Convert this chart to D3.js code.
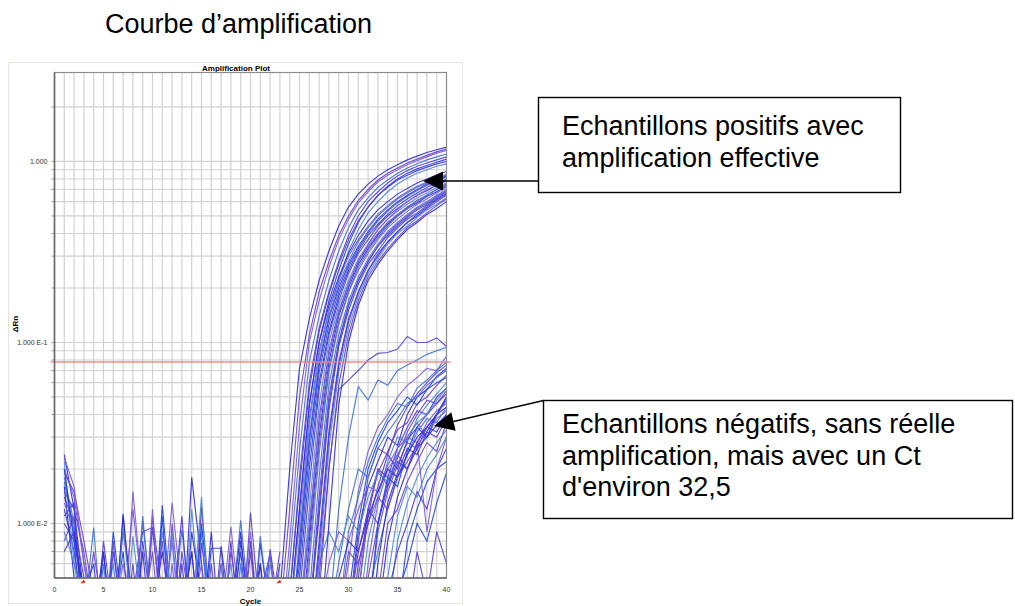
<!DOCTYPE html>
<html>
<head>
<meta charset="utf-8">
<title>Courbe d'amplification</title>
<script src="https://d3js.org/d3.v7.min.js"></script>
<style>
    body {
        margin: 0;
        background: #fff;
        font-family: "Liberation Sans", Arial, sans-serif;
    }
    svg { display: block; }
    .grid line { stroke: #d2d2d2; stroke-width: 1.2; }
    .tick-label { font-size: 7px; fill: #333; }
    .note { font-size: 27px; fill: #000; }
    .curve { fill: none; stroke-width: 1.15; stroke-opacity: 0.9; }
</style>
</head>
<body>
<svg id="chart" width="1015" height="606"></svg>
<script>
    // ---- data ----
    const xTicks = [0, 5, 10, 15, 20, 25, 30, 35, 40];
    const yTickValues = [1, 0.1, 0.01];
    const yTickLabels = ["1.000", "1.000 E-1", "1.000 E-2"];
    const threshold = 0.078;
    const baselineMarks = [3, 23];

    // baseline noise, cycles 1..23
    const noiseStart = 1;
    const noiseCurves = [
        [0.024,0.012,0.004,0.002,0.003,0.002,0.011,0.003,0.002,0.004,0.002,0.003,0.002,0.018,0.006,0.002,0.003,0.002,0.004,0.002,0.003,0.002,0.003],
        [0.02,0.014,0.006,0.003,0.002,0.004,0.002,0.015,0.004,0.002,0.003,0.013,0.004,0.002,0.003,0.002,0.003,0.0096,0.003,0.002,0.004,0.002,0.003],
        [0.017,0.009,0.003,0.0095,0.002,0.003,0.002,0.003,0.0102,0.003,0.002,0.003,0.0092,0.003,0.002,0.003,0.002,0.003,0.0104,0.003,0.002,0.003,0.002],
        [0.014,0.01,0.005,0.002,0.008,0.003,0.002,0.003,0.002,0.0108,0.004,0.002,0.003,0.002,0.0123,0.003,0.002,0.004,0.002,0.0115,0.003,0.002,0.004],
        [0.012,0.007,0.003,0.004,0.002,0.009,0.003,0.002,0.004,0.002,0.0126,0.003,0.002,0.004,0.002,0.0073,0.0073,0.002,0.003,0.002,0.0078,0.003,0.002],
        [0.01,0.008,0.002,0.003,0.002,0.003,0.009,0.004,0.009,0.0095,0.003,0.002,0.006,0.002,0.0078,0.003,0.002,0.003,0.002,0.003,0.002,0.0072,0.003],
        [0.022,0.006,0.004,0.002,0.003,0.006,0.002,0.0085,0.003,0.002,0.009,0.004,0.002,0.012,0.003,0.002,0.006,0.002,0.004,0.002,0.003,0.002,0.006],
        [0.008,0.011,0.003,0.007,0.003,0.002,0.004,0.002,0.003,0.007,0.002,0.01,0.003,0.004,0.002,0.003,0.002,0.007,0.003,0.002,0.003,0.004,0.002],
        [0.016,0.005,0.002,0.003,0.007,0.002,0.0113,0.003,0.002,0.003,0.007,0.003,0.002,0.009,0.004,0.002,0.003,0.002,0.008,0.003,0.006,0.002,0.003],
        [0.013,0.009,0.004,0.002,0.003,0.002,0.003,0.012,0.004,0.002,0.003,0.008,0.002,0.003,0.006,0.002,0.003,0.002,0.003,0.009,0.002,0.003,0.002],
        [0.018,0.01,0.003,0.002,0.006,0.002,0.003,0.002,0.011,0.003,0.002,0.004,0.002,0.003,0.009,0.002,0.003,0.002,0.006,0.002,0.0085,0.003,0.002],
        [0.015,0.012,0.007,0.003,0.002,0.008,0.002,0.003,0.002,0.0095,0.003,0.002,0.007,0.003,0.002,0.006,0.002,0.008,0.002,0.003,0.002,0.003,0.006],
        [0.02,0.008,0.004,0.006,0.002,0.003,0.007,0.002,0.003,0.002,0.011,0.002,0.003,0.002,0.01,0.003,0.002,0.003,0.007,0.002,0.004,0.0068,0.002],
        [0.011,0.013,0.002,0.003,0.002,0.007,0.003,0.002,0.008,0.003,0.002,0.003,0.011,0.002,0.003,0.002,0.0075,0.003,0.002,0.008,0.002,0.003,0.002],
        [0.009,0.006,0.003,0.002,0.004,0.002,0.0095,0.003,0.002,0.003,0.002,0.009,0.002,0.003,0.014,0.002,0.003,0.006,0.002,0.003,0.002,0.006,0.003],
        [0.019,0.015,0.008,0.004,0.002,0.003,0.002,0.006,0.002,0.003,0.008,0.002,0.003,0.007,0.002,0.003,0.002,0.003,0.002,0.007,0.002,0.003,0.007],
        [0.007,0.009,0.004,0.002,0.007,0.002,0.003,0.002,0.007,0.002,0.003,0.002,0.003,0.007,0.002,0.009,0.002,0.003,0.009,0.002,0.006,0.002,0.003],
        [0.023,0.016,0.006,0.003,0.002,0.003,0.006,0.003,0.002,0.012,0.002,0.006,0.002,0.003,0.002,0.003,0.006,0.002,0.003,0.002,0.003,0.007,0.002]
    ];

    // positive samples (first cycle of each series, then values)
    const positiveStart = [23, 23, 23, 24, 24, 24, 24, 23,
                           24, 24, 24, 24, 24, 25, 25, 25, 25, 25, 26, 26, 26, 26, 26, 26, 27,
                           25, 25, 26, 24, 26];
    const positiveCurves = [
        [0.004,0.02,0.072,0.135,0.22,0.32,0.44,0.56,0.66,0.75,0.83,0.9,0.96,1.02,1.07,1.12,1.16,1.2],
        [0.002,0.008,0.035,0.1,0.17,0.26,0.37,0.48,0.59,0.68,0.77,0.84,0.9,0.96,1.01,1.06,1.11,1.15],
        [0.002,0.006,0.025,0.078,0.14,0.22,0.32,0.43,0.54,0.63,0.72,0.79,0.86,0.92,0.97,1.02,1.06,1.1],
        [0.004,0.018,0.06,0.12,0.19,0.28,0.39,0.5,0.6,0.68,0.76,0.83,0.89,0.94,0.98,1.02,1.06],
        [0.003,0.012,0.045,0.1,0.17,0.25,0.35,0.46,0.56,0.65,0.73,0.8,0.86,0.91,0.95,0.99,1.03],
        [0.004,0.016,0.055,0.115,0.185,0.27,0.37,0.47,0.56,0.65,0.72,0.79,0.84,0.89,0.93,0.97,1.0],
        [0.002,0.008,0.035,0.085,0.15,0.22,0.32,0.42,0.52,0.6,0.68,0.75,0.81,0.86,0.9,0.94,0.97],
        [0.003,0.012,0.05,0.11,0.19,0.28,0.39,0.5,0.61,0.7,0.79,0.86,0.92,0.98,1.03,1.08,1.13,1.17],
        [0.003,0.012,0.045,0.1,0.16,0.23,0.31,0.39,0.47,0.54,0.6,0.66,0.71,0.76,0.8,0.84,0.88],
        [0.003,0.01,0.038,0.09,0.15,0.22,0.3,0.37,0.44,0.51,0.57,0.63,0.68,0.73,0.77,0.81,0.85],
        [0.002,0.008,0.03,0.078,0.14,0.21,0.28,0.36,0.43,0.5,0.56,0.62,0.67,0.72,0.76,0.8,0.84],
        [0.002,0.006,0.024,0.068,0.125,0.19,0.26,0.33,0.4,0.47,0.53,0.59,0.64,0.69,0.74,0.78,0.82],
        [0.002,0.005,0.02,0.06,0.115,0.18,0.25,0.32,0.39,0.45,0.51,0.57,0.62,0.67,0.72,0.76,0.8],
        [0.004,0.016,0.055,0.11,0.17,0.24,0.31,0.37,0.44,0.5,0.55,0.6,0.65,0.69,0.74,0.78],
        [0.003,0.012,0.045,0.1,0.16,0.22,0.29,0.35,0.42,0.48,0.53,0.58,0.63,0.67,0.72,0.76],
        [0.003,0.009,0.038,0.09,0.15,0.21,0.28,0.34,0.4,0.46,0.51,0.56,0.61,0.65,0.7,0.75],
        [0.002,0.008,0.03,0.078,0.14,0.2,0.27,0.33,0.39,0.45,0.5,0.55,0.59,0.64,0.68,0.73],
        [0.002,0.006,0.024,0.068,0.125,0.19,0.25,0.31,0.37,0.43,0.48,0.53,0.58,0.62,0.67,0.72],
        [0.004,0.018,0.058,0.11,0.17,0.23,0.29,0.35,0.41,0.46,0.51,0.56,0.6,0.65,0.7],
        [0.003,0.014,0.05,0.1,0.16,0.22,0.28,0.34,0.39,0.44,0.49,0.54,0.58,0.63,0.68],
        [0.003,0.011,0.042,0.095,0.15,0.21,0.27,0.32,0.38,0.43,0.48,0.52,0.57,0.62,0.67],
        [0.002,0.008,0.032,0.078,0.135,0.19,0.25,0.31,0.36,0.41,0.46,0.5,0.55,0.6,0.65],
        [0.002,0.006,0.026,0.068,0.12,0.18,0.24,0.29,0.35,0.4,0.44,0.49,0.54,0.58,0.63],
        [0.002,0.005,0.02,0.058,0.11,0.17,0.23,0.28,0.33,0.38,0.43,0.47,0.52,0.57,0.62],
        [0.002,0.01,0.045,0.1,0.16,0.22,0.27,0.32,0.37,0.42,0.46,0.51,0.55,0.6],
        [0.003,0.01,0.034,0.085,0.145,0.21,0.28,0.35,0.42,0.48,0.54,0.6,0.65,0.7,0.74,0.79],
        [0.002,0.007,0.027,0.072,0.13,0.19,0.26,0.32,0.38,0.44,0.5,0.55,0.6,0.65,0.7,0.74],
        [0.003,0.012,0.046,0.1,0.16,0.22,0.28,0.34,0.4,0.45,0.5,0.55,0.59,0.64,0.69],
        [0.002,0.007,0.028,0.074,0.135,0.2,0.27,0.34,0.41,0.48,0.54,0.6,0.65,0.7,0.75,0.79,0.83],
        [0.002,0.007,0.03,0.074,0.13,0.19,0.25,0.3,0.36,0.41,0.46,0.51,0.56,0.61,0.66]
    ];

    // negative samples
    const negativeStart = [27, 27, 29, 30, 30, 31, 31, 30, 32, 32, 31, 33, 33,
                           34, 34, 35, 30, 29, 31, 32, 31, 33, 30, 35, 36, 28,
                           27, 28, 29, 26, 30, 32];
    const negativeCurves = [
        [0.004,0.02,0.055,0.062,0.07,0.08,0.087,0.088,0.092,0.108,0.1,0.1,0.106,0.095],
        [0.002,0.003,0.012,0.03,0.057,0.048,0.062,0.058,0.07,0.075,0.08,0.086,0.09,0.094],
        [0.003,0.006,0.015,0.025,0.034,0.04,0.05,0.058,0.064,0.072,0.07,0.084],
        [0.003,0.009,0.016,0.022,0.03,0.027,0.04,0.05,0.055,0.065,0.072],
        [0.002,0.005,0.012,0.019,0.025,0.033,0.036,0.046,0.05,0.058,0.066],
        [0.003,0.008,0.014,0.022,0.03,0.028,0.038,0.045,0.052,0.06],
        [0.004,0.011,0.02,0.018,0.026,0.034,0.042,0.04,0.05,0.056],
        [0.004,0.01,0.02,0.028,0.036,0.042,0.05,0.045,0.055,0.06,0.064],
        [0.003,0.009,0.015,0.021,0.028,0.026,0.034,0.04,0.048],
        [0.004,0.007,0.012,0.018,0.024,0.032,0.038,0.036,0.044],
        [0.002,0.006,0.013,0.02,0.024,0.03,0.036,0.03,0.038,0.042],
        [0.003,0.008,0.014,0.02,0.026,0.03,0.035,0.04],
        [0.004,0.01,0.012,0.017,0.022,0.028,0.025,0.036],
        [0.003,0.008,0.013,0.018,0.023,0.028,0.033],
        [0.004,0.007,0.01,0.015,0.012,0.02,0.026],
        [0.003,0.008,0.012,0.017,0.02,0.022],
        [0.003,0.008,0.018,0.026,0.024,0.035,0.044,0.052,0.06,0.068,0.075],
        [0.003,0.009,0.014,0.022,0.03,0.038,0.046,0.044,0.056,0.062,0.07,0.078],
        [0.004,0.012,0.02,0.016,0.024,0.02,0.028,0.009,0.02,0.03],
        [0.002,0.006,0.013,0.019,0.026,0.024,0.032,0.04,0.05],
        [0.002,0.005,0.01,0.017,0.023,0.032,0.04,0.048,0.046,0.054],
        [0.002,0.005,0.011,0.016,0.014,0.02,0.024,0.03],
        [0.002,0.006,0.01,0.016,0.024,0.02,0.029,0.034,0.04,0.046,0.052],
        [0.004,0.006,0.01,0.008,0.013,0.019],
        [0.003,0.007,0.004,0.009,0.006],
        [0.003,0.006,0.012,0.02,0.018,0.026,0.032,0.038,0.046,0.05,0.058,0.064,0.07],
        [0.003,0.006,0.009,0.008,0.012,0.016,0.015,0.021,0.026,0.03,0.028,0.036,0.042,0.046],
        [0.002,0.005,0.008,0.007,0.011,0.015,0.02,0.018,0.024,0.03,0.034,0.04,0.044],
        [0.003,0.007,0.006,0.01,0.014,0.012,0.018,0.022,0.027,0.032,0.03,0.038],
        [0.002,0.006,0.009,0.007,0.011,0.009,0.014,0.019,0.017,0.024,0.03,0.036,0.04,0.048,0.056],
        [0.003,0.007,0.012,0.01,0.016,0.022,0.02,0.028,0.034,0.032,0.04],
        [0.003,0.01,0.018,0.016,0.025,0.034,0.03,0.04,0.05]
    ];

    const palette = ["#2a2ad8", "#5b3fcf", "#4a84d4", "#7b58d8", "#1f40e0", "#6a3fc8", "#3f6fd0", "#4a36d8"];

    // ---- layout ----
    const svg = d3.select("#chart");
    const plot = { left: 54.5, right: 446.5, top: 72.5, bottom: 578 };

    const x = d3.scaleLinear().domain([0, 40]).range([plot.left, plot.right]);
    const y = d3.scaleLog().domain([0.005, 3.1]).range([plot.bottom, plot.top]);

    // page title
    svg.append("text").attr("x", 105).attr("y", 33)
        .attr("font-size", 27).text("Courbe d\u2019amplification");

    // screenshot frame
    svg.append("rect").attr("x", 8.5).attr("y", 62.5).attr("width", 454).attr("height", 541)
        .attr("fill", "#fff").attr("stroke", "#e4e4dc");

    svg.append("text").attr("x", 236).attr("y", 70.5).attr("text-anchor", "middle")
        .attr("font-size", 8).attr("font-weight", "bold").text("Amplification Plot");

    // grid
    const grid = svg.append("g").attr("class", "grid");
    grid.selectAll(".v").data(d3.range(1, 40)).enter().append("line")
        .attr("x1", d => x(d)).attr("x2", d => x(d))
        .attr("y1", plot.top).attr("y2", plot.bottom);
    const hTicks = y.ticks().filter(v => v > 0.005 && v < 2.5);
    grid.selectAll(".h").data(hTicks).enter().append("line")
        .attr("x1", plot.left).attr("x2", plot.right)
        .attr("y1", d => y(d)).attr("y2", d => y(d));

    // small ticks on left
    svg.append("g").selectAll("line").data(hTicks).enter().append("line")
        .attr("x1", plot.left - 3).attr("x2", plot.left)
        .attr("y1", d => y(d)).attr("y2", d => y(d))
        .attr("stroke", "#999").attr("stroke-width", 1);

    // curves
    svg.append("clipPath").attr("id", "clip").append("rect")
        .attr("x", plot.left).attr("y", plot.top)
        .attr("width", plot.right - plot.left).attr("height", plot.bottom - plot.top);

    const line = d3.line().x(d => x(d[0])).y(d => y(d[1]));
    const toPoints = (start, values) => values.map((v, i) => [start + i, v]);

    const curves = svg.append("g").attr("clip-path", "url(#clip)");
    noiseCurves.forEach((vals, i) => {
        curves.append("path").attr("class", "curve")
            .attr("d", line(toPoints(noiseStart, vals)))
            .attr("stroke", palette[(i * 3) % palette.length]);
    });
    negativeCurves.forEach((vals, i) => {
        curves.append("path").attr("class", "curve")
            .attr("d", line(toPoints(negativeStart[i], vals)))
            .attr("stroke", palette[(i * 5 + 1) % palette.length]);
    });
    positiveCurves.forEach((vals, i) => {
        curves.append("path").attr("class", "curve")
            .attr("d", line(toPoints(positiveStart[i], vals)))
            .attr("stroke", palette[(i * 3) % palette.length]);
    });

    // threshold
    svg.append("line")
        .attr("x1", plot.left - 4).attr("x2", plot.right + 4)
        .attr("y1", y(threshold)).attr("y2", y(threshold))
        .attr("stroke", "#f07a7a").attr("stroke-width", 1.3).attr("stroke-opacity", 0.85);

    // borders
    svg.append("rect").attr("x", plot.left).attr("y", plot.top)
        .attr("width", plot.right - plot.left).attr("height", plot.bottom - plot.top)
        .attr("fill", "none").attr("stroke", "#8c8c8c").attr("stroke-width", 1.2);
    svg.append("line").attr("x1", plot.left).attr("x2", plot.left)
        .attr("y1", plot.top).attr("y2", plot.bottom)
        .attr("stroke", "#6a6a6a").attr("stroke-width", 1.6);
    svg.append("line").attr("x1", plot.left).attr("x2", plot.right)
        .attr("y1", plot.bottom).attr("y2", plot.bottom)
        .attr("stroke", "#6a6a6a").attr("stroke-width", 1.6);

    // axis labels
    svg.append("g").selectAll("text").data(yTickValues).enter().append("text")
        .attr("class", "tick-label").attr("text-anchor", "end")
        .attr("x", plot.left - 7).attr("y", d => y(d) + 2.5)
        .text((d, i) => yTickLabels[i]);
    svg.append("g").selectAll("text").data(xTicks).enter().append("text")
        .attr("class", "tick-label").attr("text-anchor", "middle")
        .attr("x", d => x(d)).attr("y", plot.bottom + 14)
        .text(d => d);
    svg.append("text").attr("x", x(20)).attr("y", 604).attr("text-anchor", "middle")
        .attr("font-size", 8).attr("font-weight", "bold").text("Cycle");
    svg.append("text").attr("transform", "translate(18,324) rotate(-90)")
        .attr("text-anchor", "middle").attr("font-size", 8).attr("font-weight", "bold")
        .text("\u0394Rn");

    // baseline start / end markers
    svg.append("g").selectAll("path").data(baselineMarks).enter().append("path")
        .attr("d", d => `M${x(d) - 3},${plot.bottom + 5} L${x(d)},${plot.bottom + 2} L${x(d) + 1},${plot.bottom + 4.5} Z`)
        .attr("fill", "#e02020").attr("stroke", "#e02020").attr("stroke-width", 0.6);

    // annotations
    const notes = svg.append("g");
    notes.append("rect").attr("x", 538.5).attr("y", 97.5).attr("width", 362).attr("height", 95)
        .attr("fill", "#fff").attr("stroke", "#000").attr("stroke-width", 1.4);
    ["Echantillons positifs avec", "amplification effective"].forEach((t, i) => {
        notes.append("text").attr("class", "note").attr("x", 562).attr("y", 135 + i * 32).text(t);
    });
    notes.append("rect").attr("x", 543.5).attr("y", 400.5).attr("width", 469).attr("height", 118)
        .attr("fill", "#fff").attr("stroke", "#000").attr("stroke-width", 1.4);
    ["Echantillons n\u00e9gatifs, sans r\u00e9elle", "amplification, mais avec un Ct", "d'environ 32,5"].forEach((t, i) => {
        notes.append("text").attr("class", "note").attr("x", 562).attr("y", 433 + i * 31.5).text(t);
    });

    function arrow(x1, y1, x2, y2) {
        const a = Math.atan2(y2 - y1, x2 - x1);
        const len = 20, half = 9.5;
        const bx = x2 - len * Math.cos(a), by = y2 - len * Math.sin(a);
        notes.append("line").attr("x1", x1).attr("y1", y1).attr("x2", bx).attr("y2", by)
            .attr("stroke", "#000").attr("stroke-width", 1.4);
        notes.append("path")
            .attr("d", `M${x2},${y2} L${bx + half * Math.sin(a)},${by - half * Math.cos(a)} L${bx - half * Math.sin(a)},${by + half * Math.cos(a)} Z`)
            .attr("fill", "#000");
    }
    arrow(538.5, 181, 423, 181);
    arrow(543.5, 400.5, 434, 426);
</script>
</body>
</html>
